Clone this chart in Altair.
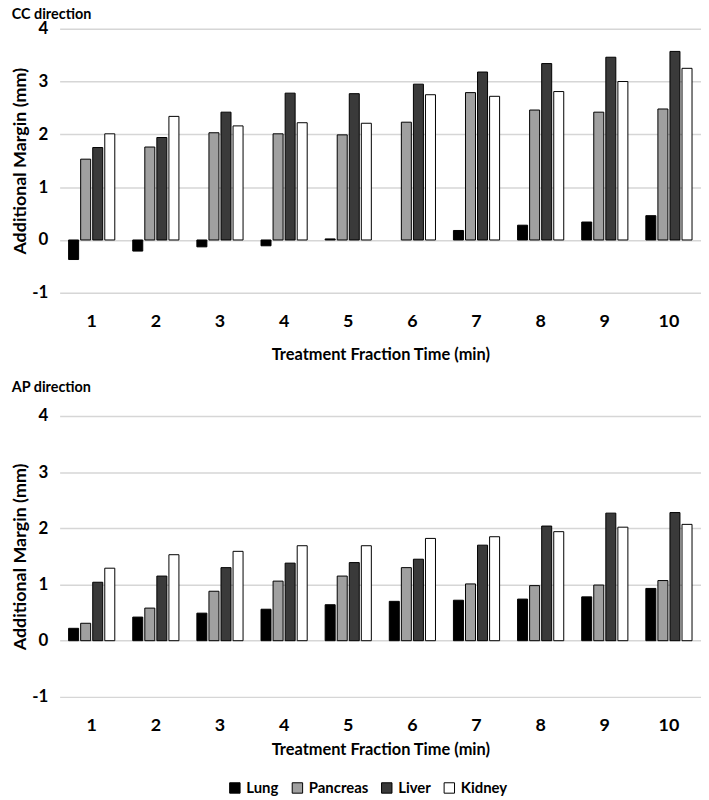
import altair as alt
import pandas as pd

times = [1, 2, 3, 4, 5, 6, 7, 8, 9, 10]
organs = ["Lung", "Pancreas", "Liver", "Kidney"]
colors = ["#000000", "#a0a0a0", "#3a3a3a", "#ffffff"]

cc_lung = [-0.37, -0.21, -0.13, -0.11, 0.02, 0.0, 0.18, 0.28, 0.34, 0.46]
cc_pancreas = [1.53, 1.76, 2.03, 2.01, 1.99, 2.23, 2.79, 2.46, 2.42, 2.48]
cc_liver = [1.75, 1.94, 2.42, 2.78, 2.77, 2.95, 3.18, 3.34, 3.46, 3.57]
cc_kidney = [2.01, 2.34, 2.16, 2.22, 2.21, 2.75, 2.72, 2.81, 3.00, 3.25]

ap_lung = [0.22, 0.42, 0.49, 0.56, 0.64, 0.70, 0.72, 0.74, 0.78, 0.93]
ap_pancreas = [0.31, 0.58, 0.88, 1.06, 1.15, 1.30, 1.01, 0.98, 0.99, 1.07]
ap_liver = [1.04, 1.15, 1.30, 1.38, 1.39, 1.45, 1.70, 2.04, 2.27, 2.28]
ap_kidney = [1.29, 1.53, 1.59, 1.69, 1.69, 1.82, 1.85, 1.94, 2.02, 2.07]

y_ticks = [-1, 0, 1, 2, 3, 4]


def make_df(series):
    rows = []
    for organ, vals in zip(organs, series):
        for t, v in zip(times, vals):
            if v != 0:
                rows.append({"time": t, "organ": organ, "value": v})
    return pd.DataFrame(rows)


cc_df = make_df([cc_lung, cc_pancreas, cc_liver, cc_kidney])
ap_df = make_df([ap_lung, ap_pancreas, ap_liver, ap_kidney])

FONT = "Lato"


def panel(df, title, height, title_offset, x_title_pad, show_legend):
    if show_legend:
        legend = alt.Legend(title=None, orient="none", legendX=169, legendY=757,
                            direction="horizontal", symbolType="square",
                            symbolStrokeColor="#000000", symbolStrokeWidth=1,
                            symbolSize=110, labelFontSize=15, labelFontWeight="bold",
                            labelFont=FONT, labelColor="#000000", columnPadding=11,
                            labelOffset=4)
    else:
        legend = None
    return (
        alt.Chart(df, title=alt.TitleParams(title, anchor="start", frame="bounds",
                                            fontSize=14.5, fontWeight="bold", font=FONT,
                                            offset=title_offset))
        .mark_bar(stroke="#000000", strokeWidth=1)
        .encode(
            x=alt.X("time:O", title="Treatment Fraction Time (min)",
                    scale=alt.Scale(paddingInner=0.28, paddingOuter=0.14),
                    axis=alt.Axis(labelAngle=0, ticks=False, domain=False,
                                  labelPadding=20, titlePadding=x_title_pad)),
            xOffset=alt.XOffset("organ:N", sort=organs,
                                scale=alt.Scale(paddingInner=0.17)),
            y=alt.Y("value:Q", title="Additional Margin (mm)",
                    scale=alt.Scale(domain=[-1, 4], nice=False),
                    axis=alt.Axis(values=y_ticks, ticks=False, domain=False,
                                  labelExpr="datum.value + ''",
                                  labelPadding=12, titlePadding=2)),
            color=alt.Color("organ:N", sort=organs,
                            scale=alt.Scale(domain=organs, range=colors),
                            legend=legend),
        )
        .properties(width=646, height=height)
    )


top = panel(cc_df, "CC direction", 266, -3, 16, True)
bottom = panel(ap_df, "AP direction", 283, 12, 7, False)

chart = (
    alt.vconcat(top, bottom, spacing=16)
    .properties(padding={"left": 3, "top": -4, "right": 0, "bottom": 0})
    .configure_view(stroke=None)
    .configure_axis(labelFont=FONT, titleFont=FONT, labelFontSize=17,
                    labelFontWeight="bold", titleFontSize=18,
                    titleFontWeight="bold", labelColor="#000000",
                    titleColor="#000000", gridColor="#d6d6d6", gridWidth=1.5)
    .configure_axisX(grid=False, labelFontSize=18, titleFontSize=16.5)
    .configure_title(color="#000000")
)

chart.save("out.html", embed_options={"renderer": "svg", "actions": False})
